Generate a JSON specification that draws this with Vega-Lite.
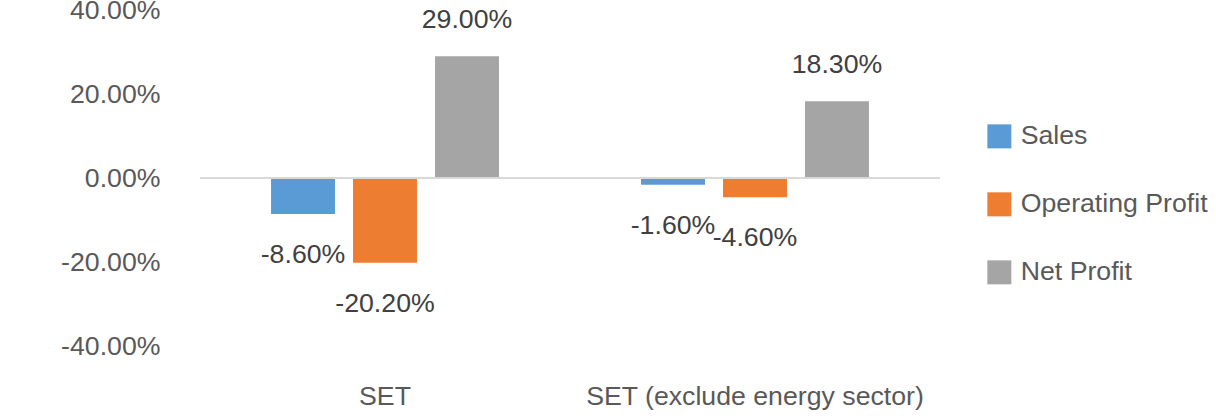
{
  "$schema": "https://vega.github.io/schema/vega-lite/v6.json",
  "width": 740,
  "height": 336,
  "autosize": "none",
  "padding": {"left": 200, "top": 10, "right": 276, "bottom": 73},
  "background": "white",
  "config": {
    "view": {"stroke": null},
    "font": "Liberation Sans",
    "locale": {"number": {"decimal": ".", "thousands": ",", "grouping": [3], "currency": ["$", ""], "minus": "-"}}
  },
  "data": {
    "values": [
      {"group": "SET", "series": "Sales", "value": -0.086},
      {"group": "SET", "series": "Operating Profit", "value": -0.202},
      {"group": "SET", "series": "Net Profit", "value": 0.29},
      {"group": "SET (exclude energy sector)", "series": "Sales", "value": -0.016},
      {"group": "SET (exclude energy sector)", "series": "Operating Profit", "value": -0.046},
      {"group": "SET (exclude energy sector)", "series": "Net Profit", "value": 0.183}
    ]
  },
  "encoding": {
    "x": {
      "field": "group", "type": "nominal",
      "sort": ["SET", "SET (exclude energy sector)"],
      "scale": {"paddingInner": 0.384, "paddingOuter": 0.192},
      "axis": {"title": null, "ticks": false, "domain": false, "labelAngle": 0, "labelFontSize": 26.7, "labelColor": "#595959", "labelPadding": 37, "labelLimit": 600, "labelOverlap": false}
    },
    "xOffset": {
      "field": "series", "type": "nominal",
      "sort": ["Sales", "Operating Profit", "Net Profit"],
      "scale": {"paddingInner": 0.22, "paddingOuter": 0}
    },
    "y": {
      "field": "value", "type": "quantitative",
      "scale": {"domain": [-0.4, 0.4], "nice": false},
      "axis": {"title": null, "format": ".2%", "values": [-0.4, -0.2, 0, 0.2, 0.4], "grid": false, "domain": false, "ticks": false, "labelFontSize": 26.7, "labelColor": "#595959", "labelPadding": 40}
    }
  },
  "layer": [
    {
      "mark": {"type": "bar", "strokeWidth": 0},
      "encoding": {
        "color": {
          "field": "series", "type": "nominal",
          "scale": {"domain": ["Sales", "Operating Profit", "Net Profit"], "range": ["#5B9BD5", "#ED7D31", "#A5A5A5"]},
          "legend": {
            "title": null, "orient": "none", "legendX": 786, "legendY": 113,
            "symbolType": "square", "symbolSize": 576, "symbolStrokeWidth": 0,
            "labelFontSize": 26.7, "labelColor": "#595959", "labelOffset": 8, "labelLimit": 400,
            "rowPadding": 40, "padding": 0
          }
        }
      }
    },
    {
      "mark": {"type": "rule", "color": "#D9D9D9", "strokeWidth": 1.5},
      "encoding": {"x": {"value": 0}, "x2": {"value": 740}, "y": {"datum": 0}, "xOffset": {"value": 0}}
    },
    {
      "transform": [{"filter": "datum.value < 0"}],
      "mark": {"type": "text", "fontSize": 26.7, "color": "#404040", "baseline": "alphabetic", "dy": 49},
      "encoding": {"text": {"field": "value", "type": "quantitative", "format": ".2%"}}
    },
    {
      "transform": [{"filter": "datum.value >= 0"}],
      "mark": {"type": "text", "fontSize": 26.7, "color": "#404040", "baseline": "alphabetic", "dy": -28},
      "encoding": {"text": {"field": "value", "type": "quantitative", "format": ".2%"}}
    }
  ]
}
